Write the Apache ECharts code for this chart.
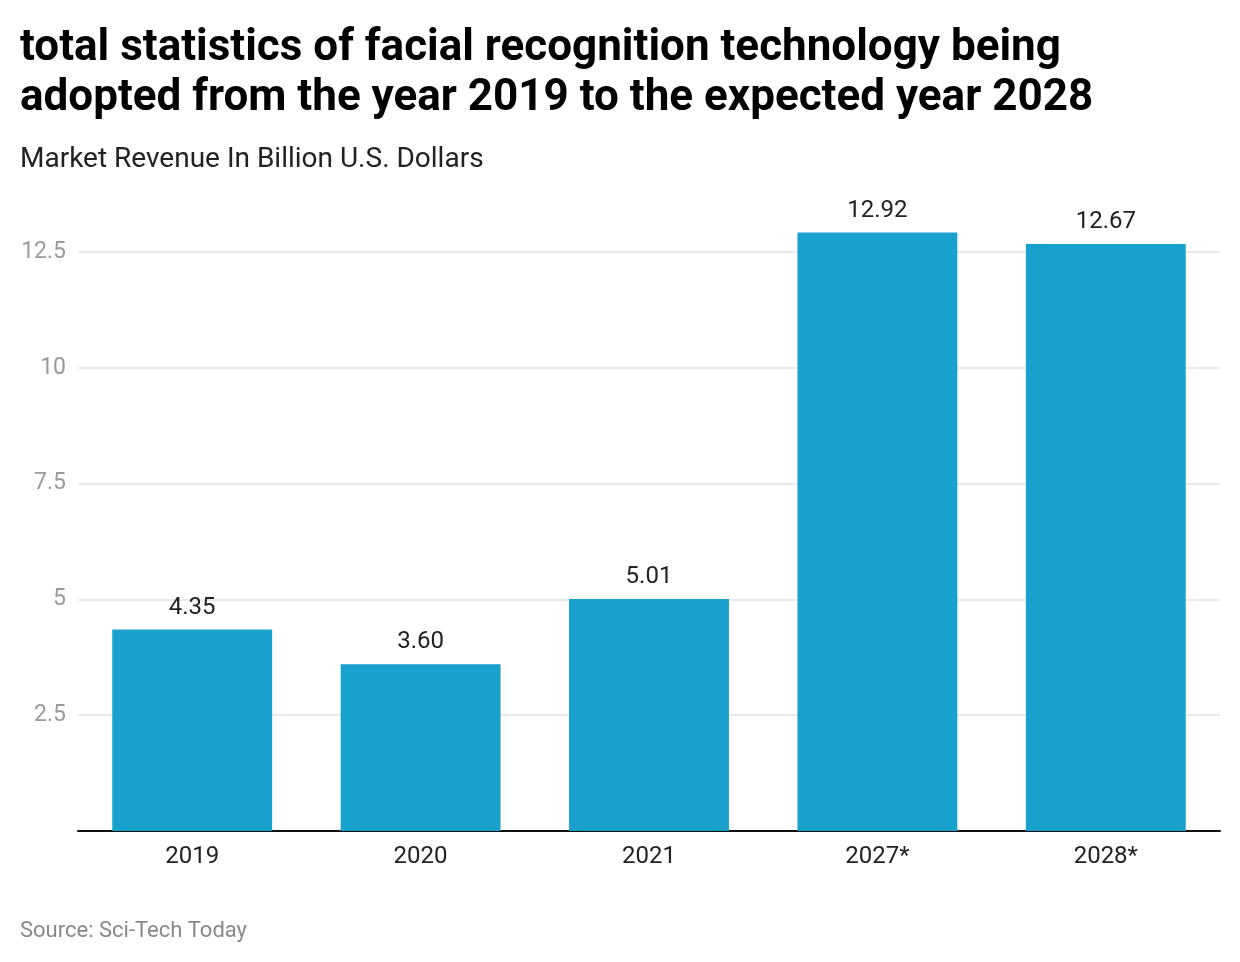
<!DOCTYPE html>
<html>
<head>
<meta charset="utf-8">
<script src="https://cdn.jsdelivr.net/npm/echarts@6/dist/echarts.min.js"></script>
<style>
  html, body { margin: 0; padding: 0; background: #fff; }
  #main { width: 1240px; height: 962px; }
</style>
</head>
<body>
<div id="main"></div>
<script>
var years = ['2019', '2020', '2021', '2027*', '2028*'];
var revenue = [4.35, 3.60, 5.01, 12.92, 12.67];
var yTicks = [2.5, 5, 7.5, 10, 12.5];

var myChart = echarts.init(document.getElementById('main'));

var option = {
    animation: false,
    textStyle: { fontFamily: 'Roboto' },
    title: [
        {
            text: 'total statistics of facial recognition technology being\nadopted from the year 2019 to the expected year 2028',
            left: 15,
            top: 19,
            textStyle: {
                fontFamily: 'Roboto',
                fontSize: 44,
                fontWeight: 'bold',
                color: '#000',
                lineHeight: 50
            }
        },
        {
            text: 'Market Revenue In Billion U.S. Dollars',
            left: 15,
            top: 141,
            textStyle: { fontFamily: 'Roboto', fontSize: 28, fontWeight: 'normal', color: '#222' }
        },
        {
            text: 'Source: Sci-Tech Today',
            left: 15,
            top: 915,
            textStyle: { fontFamily: 'Roboto', fontSize: 22, fontWeight: 'normal', color: '#888' }
        }
    ],
    grid: {
        left: 78,
        right: 20,
        top: 182.5,
        bottom: 131,
        containLabel: false
    },
    xAxis: {
        type: 'category',
        data: years,
        axisLine: { lineStyle: { color: '#111', width: 2 } },
        axisTick: { show: false },
        axisLabel: { color: '#222', fontSize: 24, margin: 14 }
    },
    yAxis: {
        type: 'value',
        min: 0,
        max: 14,
        interval: 2.5,
        axisLine: { show: false },
        axisTick: { show: false },
        axisLabel: {
            color: '#9a9a9a',
            fontSize: 23,
            margin: 12,
            showMinLabel: false,
            showMaxLabel: false,
            formatter: function (v) {
                return yTicks.indexOf(v) >= 0 ? String(v) : '';
            }
        },
        splitLine: {
            showMinLine: false,
            showMaxLine: false,
            lineStyle: { color: '#e3e3e3', width: 1.5 }
        }
    },
    series: [
        {
            type: 'bar',
            data: revenue,
            barWidth: '70%',
            itemStyle: { color: '#18a1cd' },
            label: {
                show: true,
                position: 'top',
                distance: 10,
                color: '#222',
                fontSize: 24,
                formatter: function (p) { return p.value.toFixed(2); }
            }
        }
    ]
};

myChart.setOption(option);
</script>
</body>
</html>
